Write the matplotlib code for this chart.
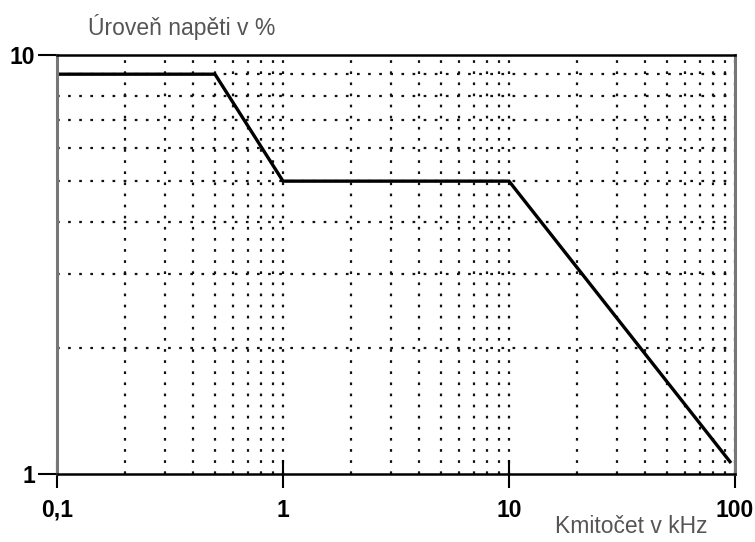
from matplotlib import pyplot as plt
from matplotlib.ticker import FixedLocator, NullFormatter, LogLocator

# Signal level limit curve (frequency in kHz, level in %)
freq_khz = [0.1, 0.5, 1.0, 10.0, 95.0]
level_pct = [9.0, 9.0, 5.0, 5.0, 1.07]

x_ticks = [0.1, 1, 10, 100]
x_labels = ["0,1", "1", "10", "100"]
y_ticks = [1, 10]
y_labels = ["1", "10"]

fig = plt.figure(figsize=(7.55, 5.42), dpi=100)
ax = fig.add_axes([0.0755, 0.1255, 0.898, 0.773])

ax.plot(freq_khz, level_pct, c="black", lw=2.4, solid_joinstyle="miter")

ax.set_xscale("log")
ax.set_yscale("log")
ax.set_xlim(0.1, 100)
ax.set_ylim(1, 10)

ax.xaxis.set_major_locator(FixedLocator(x_ticks))
ax.set_xticklabels(x_labels)
ax.yaxis.set_major_locator(FixedLocator(y_ticks))
ax.set_yticklabels(y_labels)
ax.xaxis.set_minor_locator(LogLocator(base=10, subs=range(2, 10)))
ax.yaxis.set_minor_locator(LogLocator(base=10, subs=range(2, 10)))
ax.xaxis.set_minor_formatter(NullFormatter())
ax.yaxis.set_minor_formatter(NullFormatter())

# dotted grid on every line, majors too
dots = dict(color="#111111", lw=1.6, linestyle=(0, (1.2, 3.8)))
ax.grid(which="minor", **dots)
ax.grid(which="major", axis="x", **dots)

ax.tick_params(axis="x", which="major", direction="inout", length=20,
               width=1.5, pad=8)
ax.tick_params(axis="y", which="major", direction="out", length=14,
               width=1.5, pad=2)
ax.tick_params(which="minor", length=0)
for lab in ax.get_xticklabels() + ax.get_yticklabels():
    lab.set_fontfamily("Liberation Sans")
    lab.set_fontweight("bold")
    lab.set_fontsize(16.5)

for side in ["top", "bottom"]:
    ax.spines[side].set_color("black")
    ax.spines[side].set_linewidth(1.8)
for side in ["left", "right"]:
    ax.spines[side].set_color("#777777")
    ax.spines[side].set_linewidth(2.2)

fig.text(0.116, 0.935, "Úroveň napěti v %", fontsize=16.5,
         family="Liberation Sans", color="#555555")
fig.text(0.735, 0.017, "Kmitočet v kHz", fontsize=16.5,
         family="Liberation Sans", color="#555555")

fig.savefig("out.png", dpi=100)
